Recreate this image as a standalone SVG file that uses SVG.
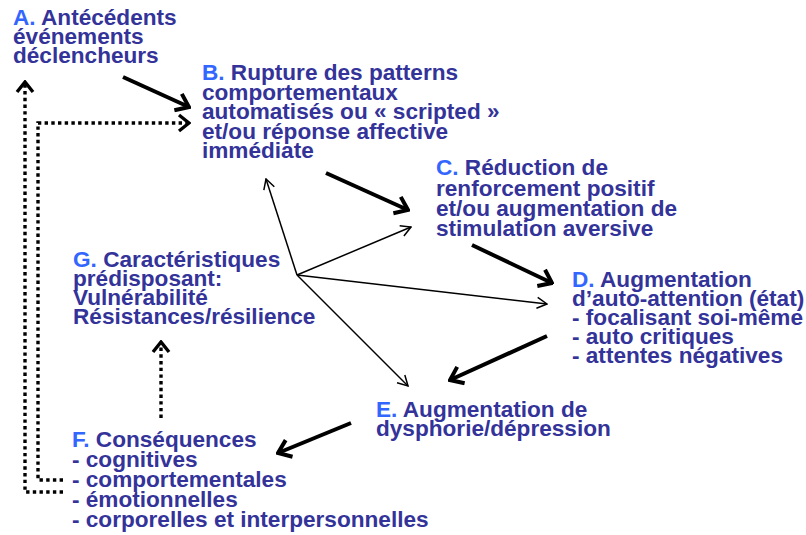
<svg xmlns="http://www.w3.org/2000/svg" width="806" height="535" viewBox="0 0 806 535">
  <style>
    text { font-family: "Liberation Sans", Arial, sans-serif; font-weight: bold; font-size: 22.6px; fill: #333399; }
    .k { fill: #3366ff; }
    .thick { stroke: #000; stroke-width: 4; fill: none; marker-end: url(#headThick); }
    .thin { stroke: #000; stroke-width: 1.5; fill: none; marker-end: url(#headThin); }
    .dot { stroke: #000; stroke-width: 3.4; fill: none; stroke-dasharray: 3.4 3.3; }
    .dotArrow { marker-end: url(#headDot); }
  </style>
  <defs>
    <marker id="headThick" markerUnits="userSpaceOnUse" viewBox="0 0 16 22" refX="14" refY="11" markerWidth="16" markerHeight="22" orient="auto">
      <path d="M2,2 L14,11 L2,20" fill="none" stroke="#000" stroke-width="4" stroke-linejoin="miter"/>
    </marker>
    <marker id="headThin" markerUnits="userSpaceOnUse" viewBox="0 0 12 14" refX="11" refY="7" markerWidth="12" markerHeight="14" orient="auto">
      <path d="M1,1.5 L11,7 L1,12.5" fill="none" stroke="#000" stroke-width="1.5"/>
    </marker>
    <marker id="headDot" markerUnits="userSpaceOnUse" viewBox="0 0 14 20" refX="12" refY="10" markerWidth="14" markerHeight="20" orient="auto">
      <path d="M2,2 L12,10 L2,18" fill="none" stroke="#000" stroke-width="3.4"/>
    </marker>
  </defs>

  <g id="connectors">
    <!-- main chain -->
    <line class="thick" x1="123" y1="77" x2="189" y2="107"/>
    <line class="thick" x1="326" y1="173" x2="408" y2="210"/>
    <line class="thick" x1="472" y1="245" x2="552" y2="283"/>
    <line class="thick" x1="547" y1="336" x2="450" y2="380"/>
    <line class="thick" x1="351" y1="423" x2="278" y2="453"/>
    <!-- influence of G -->
    <line class="thin" x1="297" y1="275" x2="266" y2="179"/>
    <line class="thin" x1="297" y1="275" x2="411" y2="227"/>
    <line class="thin" x1="297" y1="275" x2="547" y2="304"/>
    <line class="thin" x1="297" y1="275" x2="408" y2="386"/>
    <!-- feedback loops -->
    <path class="dot dotArrow" d="M63,492 L25,492 L25,82"/>
    <path class="dot dotArrow" d="M63,480 L38,480 L38,123 L189,123"/>
    <path class="dot dotArrow" d="M161,418 L161,342"/>
  </g>

  <g id="nodeA">
    <text x="13" y="25"><tspan class="k">A.</tspan> Antécédents</text>
    <text x="13" y="44">événements</text>
    <text x="13" y="63">déclencheurs</text>
  </g>

  <g id="nodeB">
    <text x="202" y="80"><tspan class="k">B.</tspan> Rupture des patterns</text>
    <text x="202" y="99.5">comportementaux</text>
    <text x="202" y="119">automatisés ou « scripted »</text>
    <text x="202" y="138.5">et/ou réponse affective</text>
    <text x="202" y="158">immédiate</text>
  </g>

  <g id="nodeC">
    <text x="436" y="175"><tspan class="k">C.</tspan> Réduction de</text>
    <text x="436" y="195.5">renforcement positif</text>
    <text x="436" y="216">et/ou augmentation de</text>
    <text x="436" y="236">stimulation aversive</text>
  </g>

  <g id="nodeD">
    <text x="572" y="287"><tspan class="k">D.</tspan> Augmentation</text>
    <text x="572" y="306">d’auto-attention (état)</text>
    <text x="572" y="325">- focalisant soi-même</text>
    <text x="572" y="344">- auto critiques</text>
    <text x="572" y="363">- attentes négatives</text>
  </g>

  <g id="nodeE">
    <text x="376" y="417"><tspan class="k">E.</tspan> Augmentation de</text>
    <text x="376" y="436">dysphorie/dépression</text>
  </g>

  <g id="nodeF">
    <text x="72" y="447"><tspan class="k">F.</tspan> Conséquences</text>
    <text x="72" y="467">- cognitives</text>
    <text x="72" y="487">- comportementales</text>
    <text x="72" y="507">- émotionnelles</text>
    <text x="72" y="527">- corporelles et interpersonnelles</text>
  </g>

  <g id="nodeG">
    <text x="73" y="267"><tspan class="k">G.</tspan> Caractéristiques</text>
    <text x="73" y="286">prédisposant:</text>
    <text x="73" y="305">Vulnérabilité</text>
    <text x="73" y="324">Résistances/résilience</text>
  </g>
</svg>
